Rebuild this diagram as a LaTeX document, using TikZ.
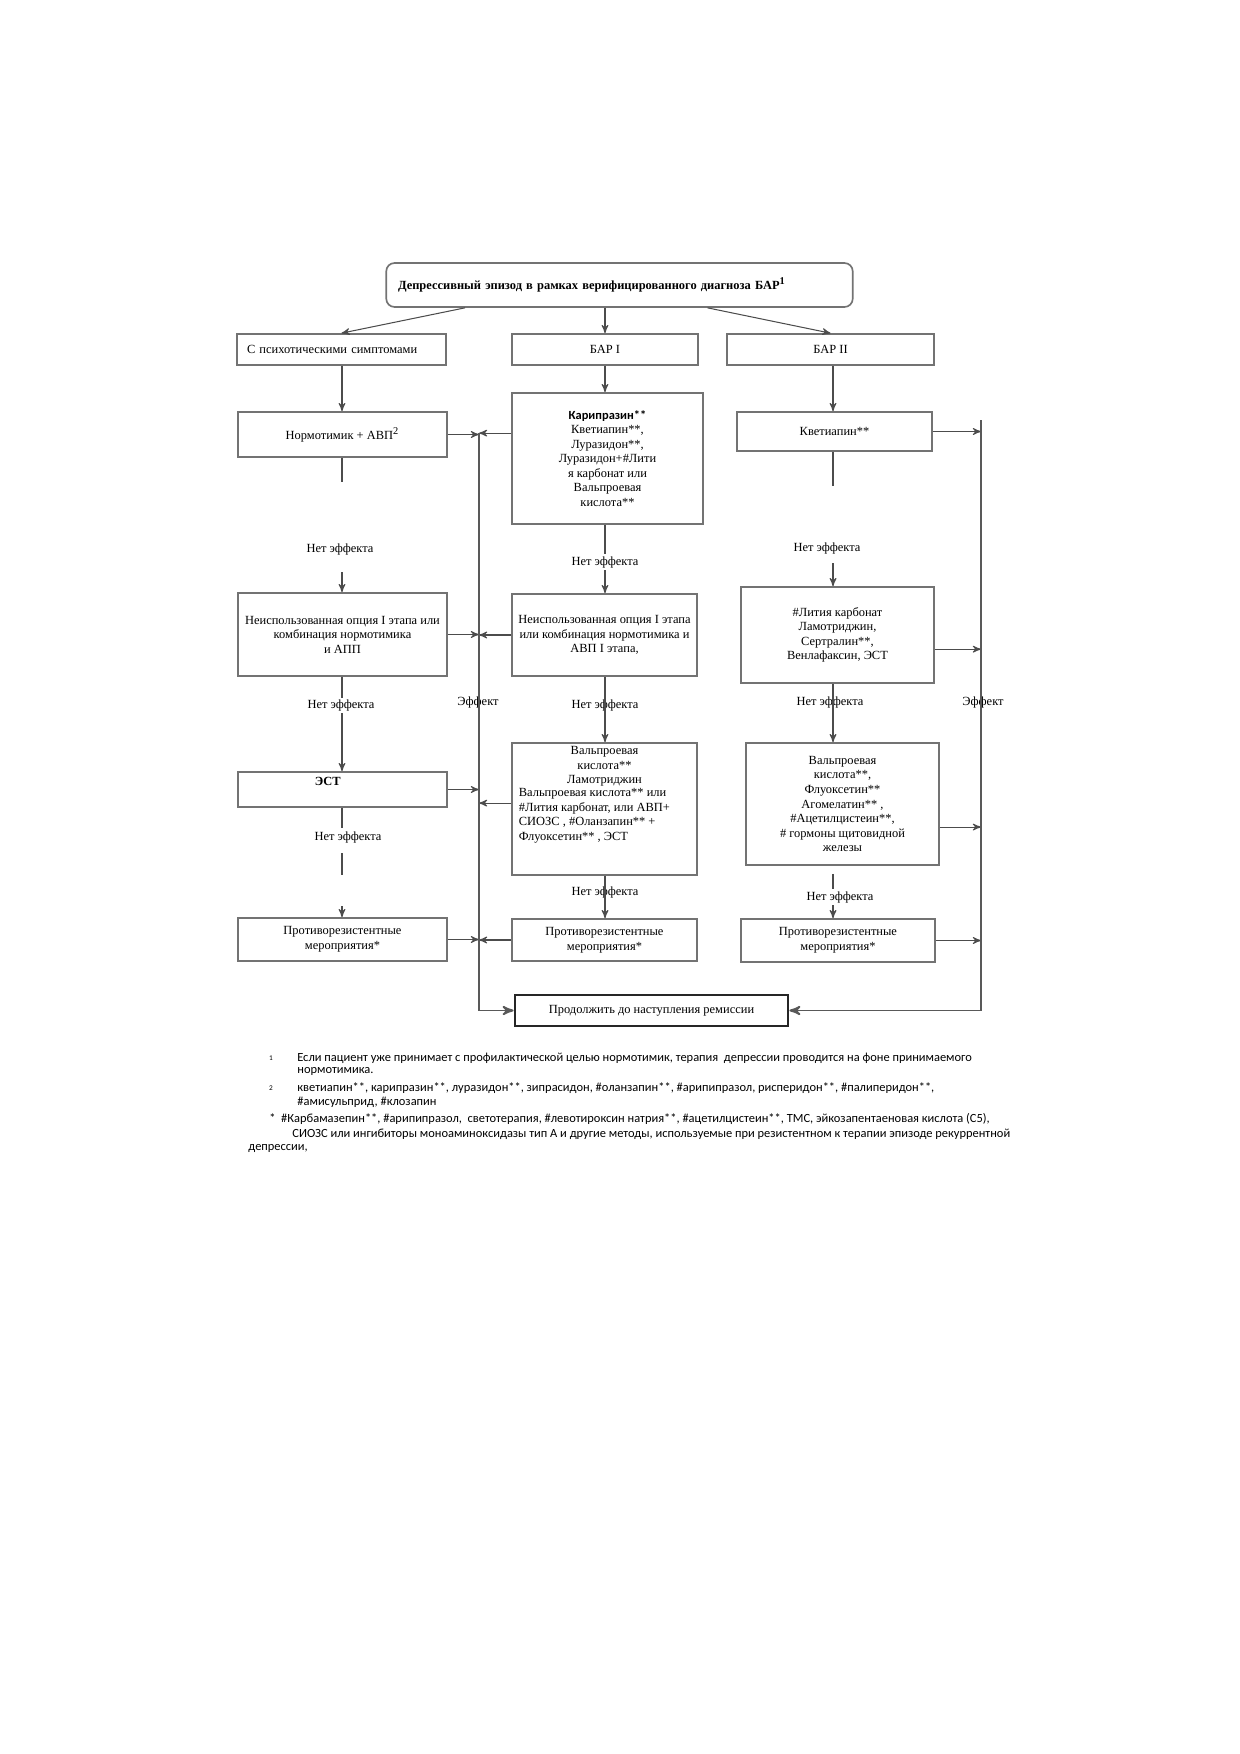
\documentclass[tikz,border=0pt]{standalone}
\usepackage{fontspec}
\setmainfont{Liberation Serif}
\newfontfamily\fnfont{Carlito}
\usetikzlibrary{arrows,calc}
\newlength\pxu
\setlength\pxu{0.16935mm}
\tikzset{wh/.style 2 args={minimum width=#1*\pxu, minimum height=#2*\pxu}}

\begin{document}
\begin{tikzpicture}[x=0.16935mm, y=-0.16935mm, ->, >=stealth']
  \tikzstyle{box}=[draw=black!55, line width=0.8pt, align=center, inner sep=1pt, font=\fontsize{6}{7}\selectfont]
  \tikzstyle{note}=[inner sep=1pt, font=\fontsize{6}{7}\selectfont]
  \tikzstyle{link}=[draw=black!70, line width=0.5pt]
  \tikzstyle{collect}=[draw=black!65, line width=0.9pt]
  \tikzstyle{fn}=[anchor=west, inner sep=0pt, font=\fnfont\fontsize{6}{7}\selectfont]
  \tikzstyle{fnmark}=[inner sep=0pt, font=\fnfont\fontsize{3.5}{4}\selectfont]

  \useasboundingbox (0,0) rectangle (1240,1754);

  % title
  \node[box, rounded corners=1.4mm, minimum height=44*\pxu, text width=75mm, inner xsep=2mm, align=left,
        font=\fontsize{6}{7}\selectfont\bfseries] (T) at (619.5,285)
        {Депрессивный эпизод в рамках верифицированного диагноза БАР\textsuperscript{1}};

  % first row
  \node[box, wh={209}{31}, text width=32mm, inner xsep=1.7mm, align=left] (A1) at (341.5,349.5) {С психотическими симптомами};
  \node[box, wh={186}{31}] (B1) at (605,349.5) {БАР I};
  \node[box, wh={207}{31}] (C1) at (830.5,349.5) {БАР II};

  % second row
  \node[box, wh={209}{45}] (A2) at (342.5,434.5) {Нормотимик + АВП\textsuperscript{2}};
  \node[box, wh={191}{131}] (B2) at (607.5,458.5)
       {{\fnfont\bfseries Карипразин**}\\Кветиапин**,\\Луразидон**,\\Луразидон+\#Лити\\я карбонат или\\Вальпроевая\\кислота**};
  \node[box, wh={195}{39}] (C2) at (834.5,431.5) {Кветиапин**};

  % third row
  \node[box, wh={209}{83}] (A3) at (342.5,634.5)
       {Неиспользованная опция I этапа или\\комбинация нормотимика\\и АПП};
  \node[box, wh={185}{82}] (B3) at (604.5,635)
       {Неиспользованная опция I этапа\\или комбинация нормотимика и\\АВП I этапа,};
  \node[box, wh={193}{96}] (C3) at (837.5,635)
       {\#Лития карбонат\\Ламотриджин,\\Сертралин**,\\Венлафаксин, ЭСТ};

  % fourth row
  \node[box, wh={209}{35}, label={[note, anchor=north, xshift=-2.5mm, yshift=-0.6mm,
        font=\fontsize{6}{7}\selectfont\bfseries]north:ЭСТ}] (A4) at (342.5,789.5) {};
  \node[box, wh={185}{132}, label={[note, anchor=north, align=center, yshift=-0.3mm]north:{Вальпроевая\\кислота**\\Ламотриджин\\
        \parbox{29mm}{\raggedright Вальпроевая кислота** или\\\#Лития карбонат, или АВП+\\СИОЗС , \#Оланзапин** +\\Флуоксетин** , ЭСТ}}}] (B4) at (604.5,809) {};
  \node[box, wh={193}{122}] (C4) at (842.5,804)
       {Вальпроевая\\кислота**,\\Флуоксетин**\\Агомелатин** ,\\\#Ацетилцистеин**,\\\# гормоны щитовидной\\железы};

  % fifth row
  \node[box, wh={209}{43}] (A5) at (342.5,939.5) {Противорезистентные\\мероприятия*};
  \node[box, wh={185}{42}] (B5) at (604.5,940) {Противорезистентные\\мероприятия*};
  \node[box, wh={194}{43}] (C5) at (838,940.5) {Противорезистентные\\мероприятия*};

  \node[box, wh={273}{31}, draw=black!85, line width=1.3pt] (F) at (651.5,1010.5) {Продолжить до наступления ремиссии};

  % helpers
  \coordinate (Ltop) at (479,433);
  \coordinate (Rtop) at (981,420);
  \coordinate (colA) at (342,0);
  \coordinate (colB) at (605,0);
  \coordinate (colC) at (833,0);

  % labels
  \node[note] (ef1) at (478,702) {Эффект};
  \node[note] (ef2) at (983,702) {Эффект};
  \node[note] (neA1) at (340,549) {Нет эффекта};
  \node[note] (neA2) at (341,705) {Нет эффекта};
  \node[note] (neA3) at (348,837) {Нет эффекта};
  \node[note] (neB1) at (605,562) {Нет эффекта};
  \node[note] (neB2) at (605,705) {Нет эффекта};
  \node[note] (neB3) at (605,892) {Нет эффекта};
  \node[note] (neC1) at (827,548) {Нет эффекта};
  \node[note] (neC2) at (830,702) {Нет эффекта};
  \node[note] (neC3) at (840,897) {Нет эффекта};

  % from the title
  \path[black!70, line width=0.5pt]
        ($(T.south west)!0.17!(T.south east)$) edge (A1.north)
        (B1.north |- T.south) edge (B1.north)
        ($(T.south west)!0.688!(T.south east)$) edge (C1.north)
        (A1.south -| colA) edge (A2.north -| colA)
        (B1.south -| colB) edge (B2.north -| colB)
        (C1.south -| colC) edge (C2.north -| colC);

  % column A
  \draw[link, -] (A2.south -| colA) -- ++(0,24);
  \draw[link] (A3.north -| colA) ++(0,-20) -- (A3.north -| colA);
  \draw[link, -] (A3.south -| colA) -- ++(0,21);
  \draw[link] (neA2.south -| colA) -- (A4.north -| colA);
  \draw[link, -] (A4.south -| colA) -- ++(0,20);
  \draw[link, -] (neA3.south -| colA) ++(0,8) -- ++(0,22);
  \draw[link] (A5.north -| colA) ++(0,-11) -- (A5.north -| colA);

  % column B
  \draw[link, -] (B2.south -| colB) -- (neB1.north -| colB);
  \draw[link] (neB1.south -| colB) -- (B3.north -| colB);
  \draw[link] (B3.south -| colB) -- (B4.north -| colB);
  \draw[link] (B4.south -| colB) -- (B5.north -| colB);

  % column C
  \draw[link, -] (C2.south -| colC) -- ++(0,34);
  \draw[link] (neC1.south -| colC) ++(0,7) -- (C3.north -| colC);
  \draw[link] (C3.south -| colC) -- (C4.north -| colC);
  \draw[link, -] (C4.south -| colC) ++(0,8) -- (neC3.north -| colC);
  \draw[link] (neC3.south -| colC) -- (C5.north -| colC);

  % into the collectors
  \draw[link] (A2.east) -- (A2.east -| Ltop);
  \draw[link] ([yshift=4.3mm]B2.west) -- ([yshift=4.3mm]B2.west -| Ltop);
  \draw[link] (A3.east) -- (A3.east -| Ltop);
  \draw[link] (B3.west) -- (B3.west -| Ltop);
  \draw[link] (A4.east) -- (A4.east -| Ltop);
  \draw[link] ([yshift=1mm]B4.west) -- ([yshift=1mm]B4.west -| Ltop);
  \draw[link] (A5.east) -- (A5.east -| Ltop);
  \draw[link] (B5.west) -- (B5.west -| Ltop);
  \draw[link] (C2.east) -- (C2.east -| Rtop);
  \draw[link] ([yshift=-2.4mm]C3.east) -- ([yshift=-2.4mm]C3.east -| Rtop);
  \draw[link] ([yshift=-3.9mm]C4.east) -- ([yshift=-3.9mm]C4.east -| Rtop);
  \draw[link] (C5.east) -- (C5.east -| Rtop);
  \draw[collect] (Ltop) |- (F.west);
  \draw[collect] (Rtop) |- (F.east);

  % footnotes
  \node[fnmark] (m1) at (271,1058) {1};
  \node[fn] (fn1a) at (297,1058) {Если пациент уже принимает с профилактической целью нормотимик, терапия \ депрессии проводится на фоне принимаемого};
  \node[fn] (fn1b) at (297,1071) {нормотимика.};
  \node[fnmark] (m2) at (271,1088) {2};
  \node[fn] (fn2a) at (297,1088) {кветиапин**, карипразин**, луразидон**, зипрасидон, \#оланзапин**, \#арипипразол, рисперидон**, \#палиперидон**,};
  \node[fn] (fn2b) at (297,1102) {\#амисульприд, \#клозапин};
  \node[fn] (fn3a) at (269,1119) {*\ \ \#Карбамазепин**, \#арипипразол, \ светотерапия, \#левотироксин натрия**, \#ацетилцистеин**, ТМС, эйкозапентаеновая кислота (C5),};
  \node[fn] (fn3b) at (292,1134) {СИОЗС или ингибиторы моноаминоксидазы тип А и другие методы, используемые при резистентном к терапии эпизоде рекуррентной};
  \node[fn] (fn3c) at (248,1148) {депрессии,};
\end{tikzpicture}
\end{document}
